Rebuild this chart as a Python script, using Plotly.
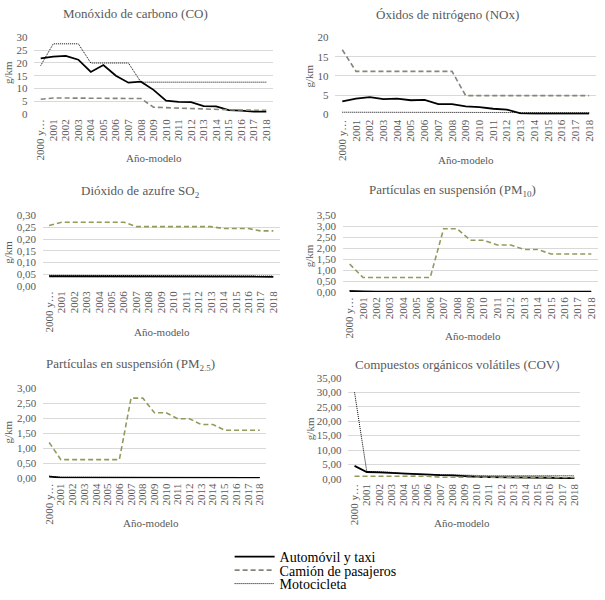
import plotly.graph_objects as go

years = ["2000 y…"] + [str(y) for y in range(2001, 2019)]
series_names = ["Automóvil y taxi", "Camión de pasajeros", "Motocicleta"]

co_auto = [21.8, 22.5, 22.8, 21.3, 16.5, 19.2, 15.0, 12.3, 12.7, 9.5, 5.3, 4.8, 4.7, 3.1, 3.0, 1.6, 1.4, 1.0, 1.0]
co_camion = [5.8, 6.3, 6.3, 6.3, 6.3, 6.3, 6.2, 6.1, 6.1, 2.7, 2.5, 2.3, 2.2, 2.0, 1.9, 1.7, 1.6, 1.5, 1.5]
co_moto = [19.0, 27.5, 27.5, 27.5, 20.0, 20.0, 20.0, 20.0, 12.5, 12.5, 12.5, 12.5, 12.5, 12.5, 12.5, 12.5, 12.5, 12.5, 12.5]

nox_auto = [3.4, 4.1, 4.5, 4.0, 4.1, 3.7, 3.8, 2.7, 2.7, 2.1, 1.9, 1.5, 1.3, 0.3, 0.2, 0.2, 0.2, 0.2, 0.2]
nox_camion = [16.8, 11.2, 11.2, 11.2, 11.2, 11.2, 11.2, 11.2, 11.2, 4.9, 4.9, 4.9, 4.9, 4.9, 4.9, 4.9, 4.9, 4.9, 4.9]
nox_moto = [0.6, 0.6, 0.6, 0.6, 0.6, 0.6, 0.6, 0.6, 0.6, 0.6, 0.6, 0.6, 0.6, 0.5, 0.5, 0.5, 0.5, 0.5, 0.5]

so2_auto = [0.042, 0.042, 0.042, 0.042, 0.042, 0.042, 0.042, 0.041, 0.041, 0.041, 0.041, 0.041, 0.041, 0.041, 0.040, 0.040, 0.040, 0.040, 0.040]
so2_camion = [0.258, 0.272, 0.272, 0.272, 0.272, 0.272, 0.272, 0.253, 0.253, 0.253, 0.253, 0.253, 0.253, 0.253, 0.245, 0.245, 0.245, 0.235, 0.235]
so2_moto = [0.046, 0.046, 0.046, 0.046, 0.046, 0.046, 0.046, 0.045, 0.045, 0.045, 0.045, 0.045, 0.044, 0.044, 0.043, 0.043, 0.043, 0.043, 0.043]

pm10_auto = [0.04, 0.01, 0.01, 0.01, 0.01, 0.01, 0.01, 0.01, 0.01, 0.01, 0.01, 0.01, 0.01, 0.01, 0.01, 0.01, 0.01, 0.01, 0.01]
pm10_camion = [1.28, 0.66, 0.66, 0.66, 0.66, 0.66, 0.66, 2.90, 2.90, 2.37, 2.37, 2.15, 2.15, 1.95, 1.95, 1.74, 1.74, 1.74, 1.74]
pm10_moto = [0.07, 0.02, 0.02, 0.02, 0.02, 0.02, 0.02, 0.02, 0.02, 0.02, 0.02, 0.02, 0.02, 0.02, 0.02, 0.02, 0.02, 0.02, 0.02]

pm25_auto = [0.05, 0.02, 0.02, 0.02, 0.02, 0.02, 0.01, 0.01, 0.01, 0.01, 0.01, 0.01, 0.01, 0.01, 0.01, 0.01, 0.01, 0.01, 0.01]
pm25_camion = [1.19, 0.62, 0.62, 0.62, 0.62, 0.62, 0.62, 2.67, 2.67, 2.18, 2.18, 1.98, 1.98, 1.79, 1.79, 1.60, 1.60, 1.60, 1.60]
pm25_moto = [0.07, 0.03, 0.03, 0.03, 0.03, 0.03, 0.03, 0.02, 0.02, 0.02, 0.02, 0.02, 0.02, 0.02, 0.02, 0.02, 0.02, 0.02, 0.02]

cov_auto = [4.5, 2.4, 2.3, 2.1, 1.7, 1.6, 1.4, 1.3, 1.2, 0.9, 0.7, 0.6, 0.6, 0.5, 0.5, 0.4, 0.4, 0.3, 0.3]
cov_camion = [0.9, 0.95, 0.95, 0.95, 0.95, 0.95, 0.9, 0.6, 0.6, 0.6, 0.55, 0.55, 0.55, 0.5, 0.5, 0.5, 0.5, 0.5, 0.5]
cov_moto = [30.0, 2.6, 2.5, 2.3, 1.8, 1.7, 1.6, 1.5, 1.4, 1.1, 1.1, 1.1, 1.1, 1.1, 1.1, 1.1, 1.1, 1.1, 1.1]

titles = ["Monóxido de carbono (CO)", "Óxidos de nitrógeno (NOx)", "Dióxido de azufre SO<sub>2</sub>",
          "Partículas en suspensión (PM<sub>10</sub>)", "Partículas en suspensión (PM<sub>2.5</sub>)",
          "Compuestos orgánicos volátiles (COV)"]
y_max = [30, 20, 0.30, 3.5, 3.0, 35]
y_step = [5, 5, 0.05, 0.5, 0.5, 5]
y_fmt = ["d", "d", ".2f", ".2f", ".2f", ".2f"]

data = [
    (co_auto, co_camion, co_moto),
    (nox_auto, nox_camion, nox_moto),
    (so2_auto, so2_camion, so2_moto),
    (pm10_auto, pm10_camion, pm10_moto),
    (pm25_auto, pm25_camion, pm25_moto),
    (cov_auto, cov_camion, cov_moto),
]

W, H = 605, 600
# plot area boxes in pixels: (left, right, top, bottom)
boxes = [
    (33.5, 272, 32.3, 111.3),
    (335, 596, 32.3, 111.7),
    (42, 279, 215.7, 288.3),
    (342.5, 598, 215.7, 294.3),
    (42.4, 265, 393.3, 486),
    (348, 580.4, 382.7, 486.7),
]
title_pos = [(135, 8), (447, 9), (140, 191), (452, 190), (130, 369), (457, 369)]
xlab_pos = [(153, 156), (466, 158), (161, 335), (473, 340), (150, 532), (462, 532)]
ylab_pos = [(7, 68), (308, 72), (7, 253), (308, 257), (7, 438), (309, 435)]
legend_rows = [567, 581, 595]

FONT = "Liberation Serif, Times New Roman, DejaVu Serif, serif"
GRAY = "#595959"
dash_colors = ["#868678", "#868678", "#939a5c", "#939a5c", "#939a5c", "#939a5c"]
legend_ids = ["legend", "legend2", "legend3"]

fig = go.Figure()
annotations = []
for i in range(6):
    ax = "" if i == 0 else str(i + 1)
    auto, camion, moto = data[i]
    xref, yref = "x" + ax, "y" + ax
    fig.add_trace(go.Scatter(x=years, y=auto, mode="lines", name=series_names[0],
                             line=dict(color="black", width=1.8), xaxis=xref, yaxis=yref,
                             showlegend=(i == 0), legend=legend_ids[0]))
    fig.add_trace(go.Scatter(x=years, y=camion, mode="lines", name=series_names[1],
                             line=dict(color=dash_colors[i], width=1.6, dash="5px,3px"), xaxis=xref, yaxis=yref,
                             showlegend=(i == 0), legend=legend_ids[1]))
    fig.add_trace(go.Scatter(x=years, y=moto, mode="lines", name=series_names[2],
                             line=dict(color="black", width=1.0, dash="1px,1px"), xaxis=xref, yaxis=yref,
                             showlegend=(i == 0), legend=legend_ids[2]))
    l, r, t, b = boxes[i]
    fig.layout["xaxis" + ax] = dict(
        domain=[l / W, r / W], anchor=yref, type="category", range=[-0.5, 18.5],
        tickmode="linear", tick0=0, dtick=1,
        tickangle=-90, showgrid=False, showline=False, zeroline=False, ticks="",
        tickfont=dict(family=FONT, size=11, color=GRAY), ticklabelstandoff=2,
    )
    fig.layout["yaxis" + ax] = dict(
        domain=[1 - b / H, 1 - t / H], anchor=xref, range=[0, y_max[i] * 1.0005],
        dtick=y_step[i], tick0=0, tickformat=y_fmt[i], showgrid=True, gridcolor="#d9d9d9",
        gridwidth=1, zeroline=False, showline=False, ticks="",
        tickfont=dict(family=FONT, size=11, color=GRAY), ticklabelstandoff=6,
    )
    tx, ty = title_pos[i]
    annotations.append(dict(text=titles[i], x=tx / W, y=1 - ty / H, xref="paper", yref="paper",
                            showarrow=False, xanchor="center", yanchor="middle",
                            font=dict(family=FONT, size=13, color=GRAY)))
    lx, ly = xlab_pos[i]
    annotations.append(dict(text="Año-modelo", x=lx / W, y=1 - ly / H, xref="paper", yref="paper",
                            showarrow=False, xanchor="center", yanchor="middle",
                            font=dict(family=FONT, size=11, color=GRAY)))
    gx, gy = ylab_pos[i]
    annotations.append(dict(text="g/km", x=gx / W, y=1 - gy / H, xref="paper", yref="paper",
                            showarrow=False, xanchor="center", yanchor="middle", textangle=-90,
                            font=dict(family=FONT, size=11, color=GRAY)))

legend_common = dict(xanchor="left", yanchor="middle",
                     font=dict(family=FONT, size=14, color="black"),
                     bgcolor="rgba(0,0,0,0)", itemwidth=40)

fig.update_layout(
    width=W, height=H, autosize=False,
    margin=dict(l=0, r=0, t=0, b=0),
    paper_bgcolor="white", plot_bgcolor="white",
    separators=",.",
    font=dict(family=FONT),
    annotations=annotations,
    showlegend=True,
    legend=dict(x=229 / W, y=1 - legend_rows[0] / H, **legend_common),
    legend2=dict(x=229 / W, y=1 - legend_rows[1] / H, **legend_common),
    legend3=dict(x=229 / W, y=1 - legend_rows[2] / H, **legend_common),
)

fig.write_html("out.html", config={"displayModeBar": False},
               post_script="document.body.style.margin='0';document.body.style.overflow='hidden';")
